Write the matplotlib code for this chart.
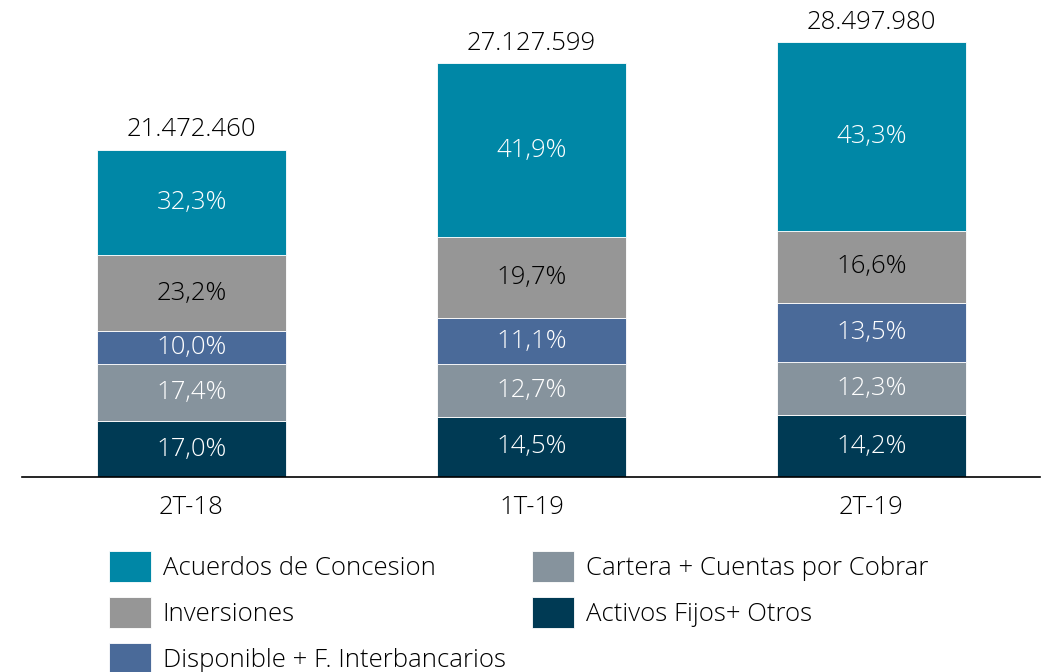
import matplotlib
matplotlib.use("Agg")
import matplotlib.pyplot as plt
import numpy as np

categories = ['2T-18', '1T-19', '2T-19']
totals = [21472460, 27127599, 28497980]

# series from bottom to top
series_names = ['Activos Fijos+ Otros', 'Cartera + Cuentas por Cobrar',
                'Disponible + F. Interbancarios', 'Inversiones', 'Acuerdos de Concesion']
series_pct = [
    [17.0, 14.5, 14.2],
    [17.4, 12.7, 12.3],
    [10.0, 11.1, 13.5],
    [23.2, 19.7, 16.6],
    [32.3, 41.9, 43.3],
]
colors = ['#003A54', '#86939D', '#4A6A99', '#969696', '#0087A6']
label_colors = ['white', 'white', 'white', 'black', 'white']

plt.rcParams['font.family'] = ['Open Sans', 'DejaVu Sans']
plt.rcParams['font.weight'] = 'light'

W, H = 1051, 672
fs = 18.5
fig = plt.figure(figsize=(W / 100, H / 100), dpi=100)
ax = fig.add_axes([22 / W, 195 / H, 1018 / W, 477 / H])

x = np.arange(len(categories))
totals_arr = np.array(totals, dtype=float)
bottom = np.zeros(len(categories))
for name, pct, col, lc in zip(series_names, series_pct, colors, label_colors):
    h = np.array(pct) / 100 * totals_arr
    ax.bar(x, h, bottom=bottom, width=0.556, color=col, edgecolor='white',
           linewidth=0.6, label=name)
    for xi, b, hi, p in zip(x, bottom, h, pct):
        ax.text(xi, b + hi / 2, f"{p:.1f}%".replace('.', ','), ha='center',
                va='center', color=lc, fontsize=fs)
    bottom += h

for xi, t in zip(x, totals):
    ax.annotate(f"{t:,}".replace(',', '.'), (xi, t), xytext=(0, 5),
                textcoords='offset points', ha='center', va='bottom',
                fontsize=fs, color='black')

ax.set_xlim((22 - 191.5) / 340, (1040 - 191.5) / 340)
ax.set_ylim(0, 28497980 * 477 / 435)
for s in ['top', 'right', 'left']:
    ax.spines[s].set_visible(False)
ax.spines['bottom'].set_color('black')
ax.spines['bottom'].set_linewidth(1.2)
ax.set_yticks([])
ax.set_xticks(x)
ax.set_xticklabels(categories, fontsize=fs)
ax.tick_params(axis='x', length=0, pad=13)

handles, labels = ax.get_legend_handles_labels()
order = [4, 3, 2, 1, 0]
fig.legend([handles[i] for i in order], [labels[i] for i in order],
           loc='upper left', bbox_to_anchor=(109 / W, 1 - 551 / H), ncol=2,
           frameon=False, fontsize=fs, handlelength=1.64, handleheight=1.49,
           handletextpad=0.45, labelspacing=0.58, columnspacing=1.02,
           borderpad=0, borderaxespad=0)

fig.savefig('out.png', dpi=100)
